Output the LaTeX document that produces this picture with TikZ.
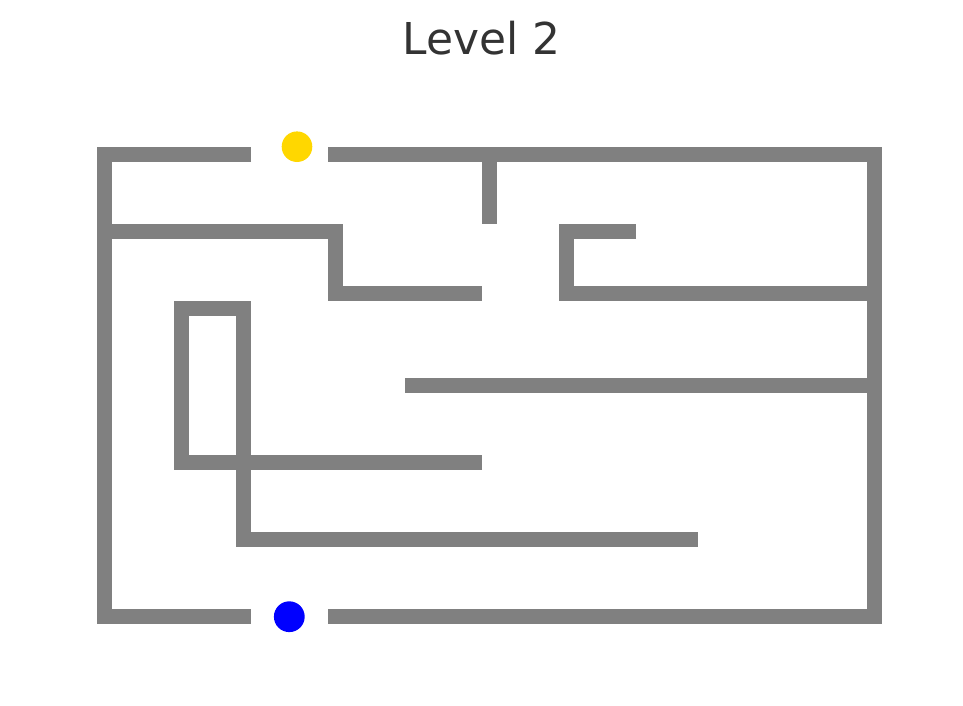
\documentclass[tikz,border=0pt]{standalone}
\usepackage{fontspec}
\setmainfont{DejaVu Sans}
\usepackage{tikz}
\usetikzlibrary{positioning}
\definecolor{wallgray}{RGB}{128,128,128}
\definecolor{titlegray}{RGB}{51,51,51}
\definecolor{goldball}{RGB}{255,215,0}
\definecolor{blueball}{RGB}{0,0,255}
\tikzset{
  wall/.style={draw=wallgray, line width=0.3cm, line cap=butt, line join=miter},
  ttl/.style={text=titlegray, anchor=base, inner sep=0pt, font=\fontsize{25}{30}\selectfont},
}

\begin{document}
\begin{tikzpicture}[x=0.02cm, y=-0.02cm]
    \useasboundingbox (0,0) rectangle (963,706);
    \node[ttl] (title) at (481.5,55) {Level 2};
    % outer frame, open at top and bottom
    \draw[wall] (251,154.5) -- (104.5,154.5) -- (104.5,616.5) -- (251,616.5);
    \draw[wall] (328,154.5) -- (874.5,154.5) -- (874.5,616.5) -- (328,616.5);
    % inner walls
    \draw[wall] (489.5,154.5) -- (489.5,224);
    \draw[wall] (104.5,231.5) -- (335.5,231.5) -- (335.5,293.5) -- (482,293.5);
    \draw[wall] (636,231.5) -- (566.5,231.5) -- (566.5,293.5) -- (874.5,293.5);
    \draw[wall] (405,385.5) -- (874.5,385.5);
    \draw[wall] (482,462.5) -- (181.5,462.5) -- (181.5,308.5) -- (243.5,308.5)
                -- (243.5,539.5) -- (698,539.5);
    % goal and player
    \fill[goldball] (297,146.7) circle[radius=15.3];
    \fill[blueball] (289.3,616.7) circle[radius=15.4];
\end{tikzpicture}
\end{document}
